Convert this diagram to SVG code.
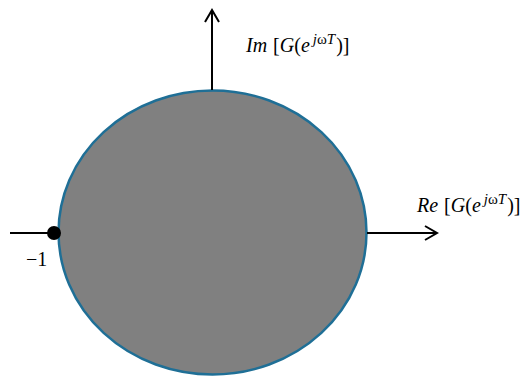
<svg xmlns="http://www.w3.org/2000/svg" width="524" height="376" viewBox="0 0 524 376">
<style>
.ax{stroke:#000;stroke-width:2;fill:none}
.t{font-family:"Liberation Serif","Times New Roman",serif;font-size:20px;fill:#000;word-spacing:1px}
.s{font-size:15px}
</style>
<defs>
<marker id="ar" markerWidth="20" markerHeight="20" refX="14" refY="10" orient="auto" markerUnits="userSpaceOnUse">
<path d="M3,3 L15,10 L3,17" fill="none" stroke="#000" stroke-width="2"/>
</marker>
</defs>
<g id="region">
<ellipse cx="212.5" cy="232.5" rx="154" ry="142" fill="#808080" stroke="#1f6f96" stroke-width="2.5"/>
</g>
<g id="axes">
<line class="ax" x1="212" y1="90" x2="212" y2="11" marker-end="url(#ar)"/>
<line class="ax" x1="367" y1="233" x2="436" y2="233" marker-end="url(#ar)"/>
<line class="ax" x1="10" y1="233" x2="58" y2="233"/>
</g>
<g id="point">
<circle cx="54" cy="233" r="7" fill="#000"/>
<text class="t" x="26" y="266">−1</text>
</g>
<g id="im-label">
<text class="t" x="246" y="52"><tspan font-style="italic">Im</tspan> [<tspan font-style="italic">G</tspan>(<tspan font-style="italic">e</tspan><tspan class="s" dx="3" dy="-8"><tspan font-style="italic">j</tspan>ω<tspan font-style="italic">T</tspan></tspan><tspan dx="1" dy="8">)]</tspan></text>
</g>
<g id="re-label">
<text class="t" x="417" y="212"><tspan font-style="italic">Re</tspan> [<tspan font-style="italic">G</tspan>(<tspan font-style="italic">e</tspan><tspan class="s" dx="3" dy="-8"><tspan font-style="italic">j</tspan>ω<tspan font-style="italic">T</tspan></tspan><tspan dx="1" dy="8">)]</tspan></text>
</g>
</svg>
